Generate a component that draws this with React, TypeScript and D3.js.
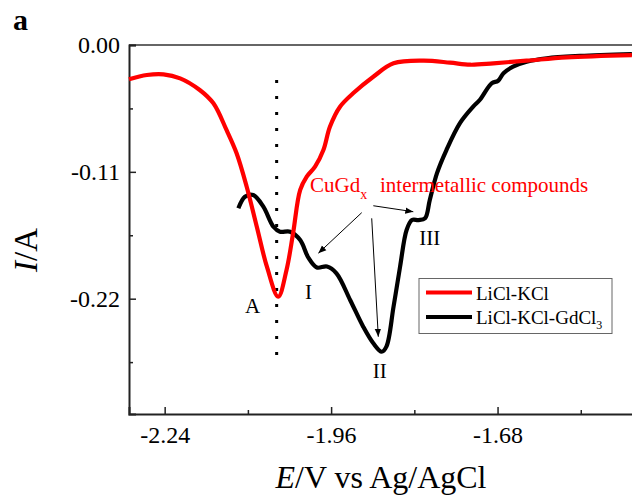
import React, { useEffect, useRef } from 'react';
import * as d3 from 'd3';

// LiCl-KCl (red) : potential (V) and current (A)
const redE = [-2.300, -2.270, -2.242, -2.214, -2.181, -2.158, -2.136, -2.119, -2.102, -2.085, -2.068, -2.049, -2.035, -2.024, -2.012, -2.001, -1.987, -1.973, -1.962, -1.945, -1.923, -1.889, -1.855, -1.805, -1.760, -1.726, -1.687, -1.631, -1.564, -1.454];
const redI = [-0.0297, -0.0260, -0.0254, -0.0289, -0.0390, -0.0506, -0.0737, -0.0939, -0.1229, -0.1576, -0.1923, -0.2183, -0.1951, -0.1633, -0.1257, -0.1142, -0.1055, -0.0911, -0.0709, -0.0535, -0.0419, -0.0275, -0.0159, -0.0136, -0.0153, -0.0171, -0.0159, -0.0136, -0.0107, -0.0087];

// LiCl-KCl-GdCl3 (black)
const blackE = [-2.116, -2.105, -2.091, -2.074, -2.057, -2.046, -2.029, -2.012, -1.998, -1.984, -1.967, -1.951, -1.928, -1.906, -1.889, -1.875, -1.867, -1.855, -1.844, -1.833, -1.824, -1.813, -1.802, -1.794, -1.782, -1.766, -1.743, -1.721, -1.710, -1.690, -1.679, -1.670, -1.654, -1.631, -1.597, -1.541, -1.454];
const blackI = [-0.1416, -0.1316, -0.1301, -0.1402, -0.1576, -0.1619, -0.1619, -0.1691, -0.1847, -0.1930, -0.1921, -0.1980, -0.2211, -0.2443, -0.2587, -0.2660, -0.2616, -0.2270, -0.1923, -0.1604, -0.1518, -0.1518, -0.1503, -0.1344, -0.1113, -0.0911, -0.0676, -0.0535, -0.0477, -0.0332, -0.0310, -0.0245, -0.0188, -0.0145, -0.0115, -0.0095, -0.0078];

const xTicks = [-2.24, -1.96, -1.68];
const xMinor = [-2.10, -1.82, -1.54];
const yTicks = [0, -0.11, -0.22];
const yMinor = [-0.055, -0.165, -0.275];

// peak labels: [text, E, I]
const peakLabels: [string, number, number][] = [
  ['A', -2.092, -0.2327],
  ['I', -1.998, -0.2205],
  ['II', -1.878, -0.2885],
  ['III', -1.794, -0.1734],
];

// arrows from the CuGdx note: [E0, I0, E1, I1]
const arrows: [number, number, number, number][] = [
  [-1.9085, -0.1454, -1.9815, -0.1806],
  [-1.8917, -0.1503, -1.8806, -0.2530],
  [-1.8890, -0.1394, -1.8217, -0.1446],
];

const markerE = -2.0516;

const serif = '"Liberation Serif", "Times New Roman", serif';

// plain hyphen instead of d3's unicode minus
const fmt = (d: d3.NumberValue) => d3.format('.2f')(d as number).replace('\u2212', '-');

const App = () => {
  const svgRef = useRef<SVGSVGElement>(null);

  useEffect(() => {
    const svg = d3.select(svgRef.current);
    svg.selectAll('*').remove();

    const left = 129, right = 664, top = 45, bottom = 414;

    const x = d3.scaleLinear().domain([-2.30, -1.40]).range([left, right]);
    const y = d3.scaleLinear().domain([-0.32, 0]).range([bottom, top]);

    // panel letter
    svg.append('text').attr('x', 13).attr('y', 30)
      .attr('font-family', serif).attr('font-weight', 'bold').attr('font-size', 30)
      .text('a');

    // frame top line
    svg.append('line').attr('x1', left).attr('x2', right).attr('y1', top).attr('y2', top)
      .attr('stroke', '#333').attr('stroke-width', 1.5);

    // axes
    const xAxis = svg.append('g').attr('transform', `translate(0,${bottom})`)
      .call(d3.axisBottom(x).tickValues(xTicks).tickSize(-7).tickPadding(12).tickFormat(fmt));
    svg.append('g').attr('transform', `translate(0,${bottom})`)
      .call(d3.axisBottom(x).tickValues(xMinor).tickSize(-4).tickFormat(() => ''))
      .select('.domain').remove();
    const yAxis = svg.append('g').attr('transform', `translate(${left},0)`)
      .call(d3.axisLeft(y).tickValues(yTicks).tickSize(-7).tickPadding(9).tickFormat(fmt));
    svg.append('g').attr('transform', `translate(${left},0)`)
      .call(d3.axisLeft(y).tickValues(yMinor).tickSize(-4).tickFormat(() => ''))
      .select('.domain').remove();

    svg.selectAll('.domain').attr('stroke', '#222').attr('stroke-width', 2);
    svg.selectAll('.tick line').attr('stroke', '#222').attr('stroke-width', 1.5);
    xAxis.selectAll('text').attr('font-family', serif).attr('font-size', 24).attr('fill', '#000');
    yAxis.selectAll('text').attr('font-family', serif).attr('font-size', 24).attr('fill', '#000');
    yAxis.selectAll('.tick text').attr('dy', '0.32em');

    // axis titles
    const xt = svg.append('text').attr('x', 381).attr('y', 488)
      .attr('text-anchor', 'middle').attr('font-family', serif).attr('font-size', 32);
    xt.append('tspan').attr('font-style', 'italic').text('E');
    xt.append('tspan').text('/V vs Ag/AgCl');

    const yt = svg.append('text').attr('transform', 'translate(37,250) rotate(-90)')
      .attr('text-anchor', 'middle').attr('font-family', serif).attr('font-size', 33);
    yt.append('tspan').attr('font-style', 'italic').text('I');
    yt.append('tspan').text('/A');

    // dotted marker line
    svg.append('line')
      .attr('x1', x(markerE)).attr('x2', x(markerE))
      .attr('y1', y(-0.0304)).attr('y2', y(-0.279))
      .attr('stroke', '#000').attr('stroke-width', 3).attr('stroke-dasharray', '3 13');

    const line = d3.line<[number, number]>()
      .x(d => x(d[0])).y(d => y(d[1]))
      .curve(d3.curveCatmullRom.alpha(0.5));

    svg.append('path')
      .attr('d', line(blackE.map((e, i) => [e, blackI[i]]) as [number, number][]))
      .attr('fill', 'none').attr('stroke', '#000').attr('stroke-width', 4.2).attr('stroke-linejoin', 'round');
    svg.append('path')
      .attr('d', line(redE.map((e, i) => [e, redI[i]]) as [number, number][]))
      .attr('fill', 'none').attr('stroke', '#ff0000').attr('stroke-width', 4.2).attr('stroke-linejoin', 'round');

    // peak labels
    peakLabels.forEach(([t, e, i]) => {
      svg.append('text').attr('x', x(e)).attr('y', y(i))
        .attr('text-anchor', 'middle').attr('font-family', serif).attr('font-size', 21)
        .text(t);
    });

    // annotation text
    const note = svg.append('text').attr('x', x(-1.9955)).attr('y', y(-0.1272))
      .attr('font-family', serif).attr('font-size', 21).attr('fill', '#ff0000');
    note.append('tspan').text('CuGd');
    note.append('tspan').attr('font-size', 14).attr('dy', 7).text('x');
    note.append('tspan').attr('x', 380).attr('dy', -7).text('intermetallic compounds');

    // arrows
    const defs = svg.append('defs');
    defs.append('marker').attr('id', 'ah').attr('viewBox', '0 0 10 10')
      .attr('refX', 10).attr('refY', 5).attr('markerWidth', 8).attr('markerHeight', 8)
      .attr('markerUnits', 'userSpaceOnUse').attr('orient', 'auto')
      .append('path').attr('d', 'M0,1 L10,5 L0,9 Z').attr('fill', '#000');
    arrows.forEach(([e0, i0, e1, i1]) => {
      svg.append('line')
        .attr('x1', x(e0)).attr('y1', y(i0)).attr('x2', x(e1)).attr('y2', y(i1))
        .attr('stroke', '#000').attr('stroke-width', 1).attr('marker-end', 'url(#ah)');
    });

    // legend
    const lg = svg.append('g');
    lg.append('rect').attr('x', 419).attr('y', 278.5).attr('width', 193).attr('height', 55)
      .attr('fill', '#fff').attr('stroke', '#666').attr('stroke-width', 1);
    const items: [string, string, boolean][] = [['LiCl-KCl', '#ff0000', false], ['LiCl-KCl-GdCl', '#000', true]];
    items.forEach(([t, c, sub], k) => {
      const ly = 292.5 + k * 24.5;
      lg.append('line').attr('x1', 426).attr('x2', 472).attr('y1', ly).attr('y2', ly)
        .attr('stroke', c).attr('stroke-width', 4);
      const tx = lg.append('text').attr('x', 476).attr('y', ly + 7)
        .attr('font-family', serif).attr('font-size', 19).attr('fill', '#000').text(t);
      if (sub) tx.append('tspan').attr('font-size', 12).attr('dy', 5).text('3');
    });
  }, []);

  return (
    <svg ref={svgRef} width={632} height={496}
      style={{ position: 'absolute', left: 0, top: 0, background: '#fff' }} />
  );
};

export default App;
